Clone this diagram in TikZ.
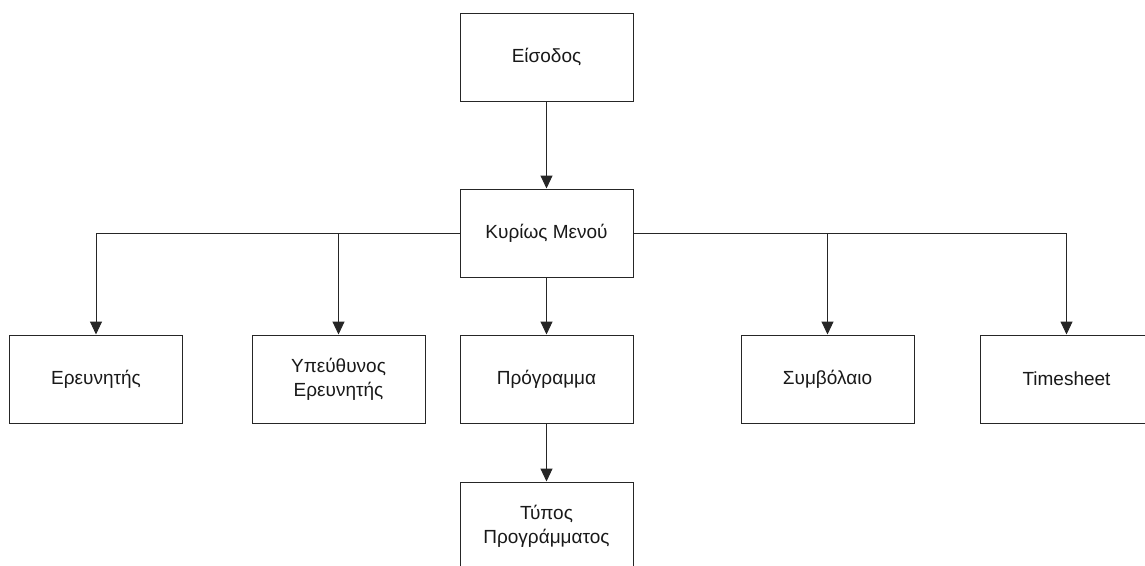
\documentclass[tikz,border=0pt]{standalone}
\usepackage{fontspec}
\setmainfont{Liberation Sans}
\usetikzlibrary{arrows.meta}
\begin{document}
\begin{tikzpicture}[x=1pt,y=-1pt,
  box/.style={draw=black!85, line width=1pt, fill=white, minimum width=173pt, minimum height=88pt,
    inner sep=0pt, align=center, font=\fontsize{19}{24}\selectfont, text=black!90},
  link/.style={draw=black!85, line width=1pt, -{Triangle[length=13pt,width=12pt]}}]
  \path[use as bounding box, clip] (0,0) rectangle (1145,565);

  % boxes
  \node[box] (eisodos) at (546.5,57)  {Είσοδος};
  \node[box] (menu)    at (546.5,233) {Κυρίως Μενού};
  \node[box] (erevn)   at (96,379)    {Ερευνητής};
  \node[box] (ypef)    at (338.5,379) {Υπεύθυνος\\Ερευνητής};
  \node[box] (prog)    at (546.5,379) {Πρόγραμμα};
  \node[box] (symv)    at (827.5,379) {Συμβόλαιο};
  \node[box] (times)   at (1066.5,379){Timesheet};
  \node[box] (typos)   at (546.5,526) {Τύπος\\Προγράμματος};

  % connectors
  \draw[link] (eisodos) -- (menu);
  \draw[link] (menu) -- (prog);
  \draw[link] (prog) -- (typos);
  \draw[link] (menu.west) -| (erevn.north);
  \draw[link] (menu.west) -| (ypef.north);
  \draw[link] (menu.east) -| (symv.north);
  \draw[link] (menu.east) -| (times.north);
\end{tikzpicture}
\end{document}
